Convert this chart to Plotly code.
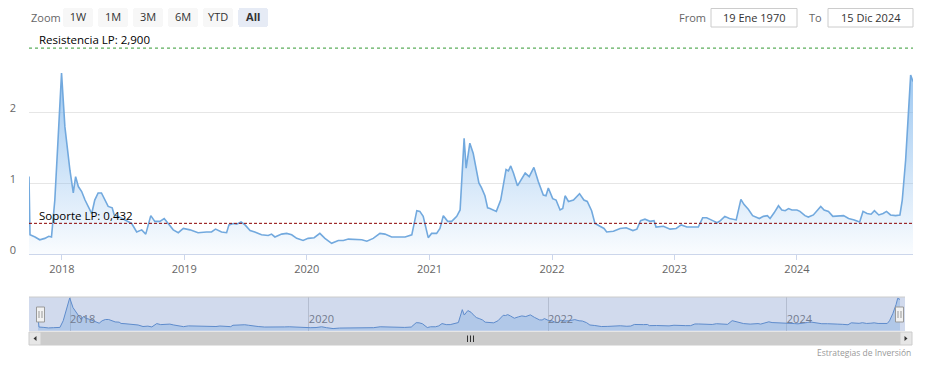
import plotly.graph_objects as go

# ---------------- data ----------------
dates = [
    "2017-09-25", "2017-09-28", "2017-10-13", "2017-10-27", "2017-11-11", "2017-11-23", "2017-12-01", "2017-12-11", "2017-12-20", "2017-12-31",
    "2018-01-10", "2018-01-18", "2018-01-25", "2018-02-04", "2018-02-11", "2018-02-19", "2018-03-01", "2018-03-11", "2018-03-20", "2018-03-31",
    "2018-04-09", "2018-04-19", "2018-04-29", "2018-05-09", "2018-05-19", "2018-05-31", "2018-06-06", "2018-06-18", "2018-07-08", "2018-07-28",
    "2018-08-12", "2018-08-27", "2018-09-08", "2018-09-23", "2018-10-05", "2018-10-20", "2018-11-02", "2018-11-14", "2018-11-29", "2018-12-14",
    "2018-12-29", "2019-01-18", "2019-02-11", "2019-03-08", "2019-03-23", "2019-04-04", "2019-04-22", "2019-05-07", "2019-05-14", "2019-05-27",
    "2019-06-06", "2019-06-19", "2019-07-01", "2019-07-16", "2019-07-30", "2019-08-19", "2019-09-08", "2019-09-18", "2019-09-28", "2019-10-18",
    "2019-11-02", "2019-11-17", "2019-12-02", "2019-12-21", "2020-01-05", "2020-01-23", "2020-02-09", "2020-02-24", "2020-03-15", "2020-04-04",
    "2020-04-19", "2020-05-04", "2020-05-24", "2020-06-13", "2020-06-28", "2020-07-17", "2020-08-06", "2020-08-21", "2020-09-10", "2020-09-30",
    "2020-10-20", "2020-11-09", "2020-11-24", "2020-12-03", "2020-12-13", "2020-12-28", "2021-01-07", "2021-01-22", "2021-02-01", "2021-02-11",
    "2021-02-24", "2021-03-08", "2021-03-23", "2021-04-02", "2021-04-14", "2021-04-20", "2021-05-01", "2021-05-11", "2021-05-21", "2021-05-28",
    "2021-06-05", "2021-06-15", "2021-06-23", "2021-06-30", "2021-07-19", "2021-08-01", "2021-08-17", "2021-08-24", "2021-08-31", "2021-09-08",
    "2021-09-20", "2021-10-03", "2021-10-13", "2021-10-25", "2021-11-08", "2021-11-21", "2021-12-06", "2021-12-14", "2021-12-21", "2022-01-03",
    "2022-01-13", "2022-01-25", "2022-02-02", "2022-02-09", "2022-02-19", "2022-03-06", "2022-03-24", "2022-04-06", "2022-04-16", "2022-04-29",
    "2022-05-09", "2022-05-24", "2022-06-05", "2022-06-13", "2022-07-03", "2022-07-23", "2022-08-10", "2022-08-30", "2022-09-11", "2022-09-22",
    "2022-10-05", "2022-10-20", "2022-11-01", "2022-11-07", "2022-11-29", "2022-12-19", "2023-01-06", "2023-01-21", "2023-02-07", "2023-02-26",
    "2023-03-13", "2023-03-26", "2023-04-07", "2023-04-25", "2023-05-08", "2023-05-18", "2023-05-31", "2023-06-14", "2023-07-04", "2023-07-18",
    "2023-07-27", "2023-08-09", "2023-08-22", "2023-09-11", "2023-09-23", "2023-10-05", "2023-10-13", "2023-10-25", "2023-11-07", "2023-11-17",
    "2023-11-27", "2023-12-07", "2023-12-17", "2024-01-01", "2024-01-10", "2024-01-25", "2024-02-04", "2024-02-19", "2024-03-05", "2024-03-12",
    "2024-03-22", "2024-04-04", "2024-04-17", "2024-05-04", "2024-05-19", "2024-06-03", "2024-06-20", "2024-07-06", "2024-07-16", "2024-07-28",
    "2024-08-09", "2024-08-19", "2024-09-01", "2024-09-14", "2024-09-24", "2024-10-06", "2024-10-21", "2024-11-03", "2024-11-10", "2024-11-20",
    "2024-11-30", "2024-12-05", "2024-12-12",
]
values = [
    1.09, 0.27, 0.24, 0.20, 0.22, 0.25, 0.24, 0.76, 1.56, 2.55,
    1.79, 1.46, 1.18, 0.86, 1.09, 0.95, 0.88, 0.76, 0.67, 0.57,
    0.76, 0.86, 0.86, 0.76, 0.67, 0.65, 0.55, 0.53, 0.48, 0.43,
    0.31, 0.34, 0.28, 0.54, 0.46, 0.46, 0.50, 0.43, 0.34, 0.30,
    0.36, 0.34, 0.30, 0.31, 0.31, 0.35, 0.31, 0.30, 0.41, 0.43,
    0.42, 0.45, 0.41, 0.33, 0.31, 0.27, 0.26, 0.28, 0.24, 0.28,
    0.29, 0.27, 0.22, 0.19, 0.22, 0.23, 0.29, 0.22, 0.15, 0.19,
    0.19, 0.21, 0.20, 0.20, 0.18, 0.22, 0.29, 0.28, 0.24, 0.24,
    0.24, 0.27, 0.61, 0.60, 0.53, 0.23, 0.29, 0.29, 0.36, 0.54,
    0.46, 0.46, 0.53, 0.62, 1.63, 1.21, 1.56, 1.42, 1.14, 1.00,
    0.93, 0.82, 0.65, 0.64, 0.60, 0.76, 1.19, 1.17, 1.24, 1.14,
    0.96, 1.07, 1.14, 1.09, 1.22, 1.02, 0.83, 0.82, 0.93, 0.78,
    0.76, 0.62, 0.64, 0.82, 0.74, 0.76, 0.85, 0.76, 0.74, 0.61,
    0.43, 0.39, 0.36, 0.31, 0.32, 0.36, 0.37, 0.33, 0.35, 0.47,
    0.49, 0.46, 0.47, 0.38, 0.39, 0.35, 0.36, 0.41, 0.38, 0.38,
    0.38, 0.51, 0.51, 0.47, 0.44, 0.47, 0.53, 0.50, 0.48, 0.77,
    0.70, 0.63, 0.54, 0.50, 0.53, 0.54, 0.50, 0.58, 0.68, 0.62,
    0.61, 0.64, 0.62, 0.62, 0.60, 0.54, 0.52, 0.55, 0.63, 0.67,
    0.62, 0.60, 0.53, 0.53, 0.54, 0.50, 0.48, 0.45, 0.60, 0.57,
    0.56, 0.61, 0.55, 0.57, 0.60, 0.55, 0.54, 0.55, 0.76, 1.32,
    2.03, 2.52, 2.43,
]
RESISTANCE = 2.900
SUPPORT = 0.432
y_ticks = [0, 1, 2]
zoom_buttons = ["1W", "1M", "3M", "6M", "YTD", "All"]
FROM_LABEL = "19 Ene 1970"
TO_LABEL = "15 Dic 2024"
CREDITS = "Estrategias de Inversión"

# ---------------- layout helpers ----------------
# The page body has an 8px margin, so the figure is 8px smaller and every
# window-pixel position is mapped with that offset.
OFF = 8
W, H = 931 - OFF, 367 - OFF
def px(x):
    return (x - OFF) / W
def py(y):
    return 1 - (y - OFF) / H

def es_num(v):
    return f"{v:,.3f}".replace(",", "X").replace(".", ",").replace("X", ".")

FONT = "Open Sans, Noto Sans, sans-serif"
LINE = "#72a9de"

fig = go.Figure()
fig.add_trace(go.Scatter(
    x=dates, y=values, mode="lines",
    line=dict(color=LINE, width=1.6),
    fill="tozeroy",
    fillgradient=dict(type="vertical", start=0, stop=max(values),
                      colorscale=[[0, "rgba(124,181,236,0.04)"], [1, "rgba(124,181,236,0.75)"]]),
    xaxis="x", yaxis="y", showlegend=False, name="",
))
fig.add_trace(go.Scatter(
    x=dates, y=values, mode="lines",
    line=dict(color="#5b8fd0", width=1),
    fill="tozeroy", fillcolor="rgba(124,181,236,0.35)",
    xaxis="x2", yaxis="y2", showlegend=False, hoverinfo="skip",
))

steps = {
    "1W": dict(count=7, step="day", stepmode="backward"),
    "1M": dict(count=1, step="month", stepmode="backward"),
    "3M": dict(count=3, step="month", stepmode="backward"),
    "6M": dict(count=6, step="month", stepmode="backward"),
    "YTD": dict(count=1, step="year", stepmode="todate"),
    "All": dict(step="all"),
}
buttons = [dict(label=("<b>%s</b>" % b if b == "All" else b), **steps[b]) for b in zoom_buttons]

shapes = []
# support / resistance
shapes.append(dict(type="line", xref="paper", yref="y", x0=px(29), x1=px(913), y0=RESISTANCE, y1=RESISTANCE,
                   line=dict(color="#339933", width=1, dash="dot")))
shapes.append(dict(type="line", xref="paper", yref="y", x0=px(29), x1=px(913), y0=SUPPORT, y1=SUPPORT,
                   line=dict(color="#8b0000", width=1, dash="3px,2px")))
# From / To boxes
for x0, x1 in [(711, 797), (828, 913)]:
    shapes.append(dict(type="rect", xref="paper", yref="paper", x0=px(x0), x1=px(x1), y0=py(27), y1=py(8.5),
                       line=dict(color="#cccccc", width=1), fillcolor="white"))
# navigator mask and outline
shapes.append(dict(type="rect", xref="paper", yref="paper", x0=px(29), x1=px(905), y0=py(331), y1=py(297),
                   line=dict(width=0), fillcolor="rgba(102,133,194,0.3)", layer="above"))
shapes.append(dict(type="line", xref="paper", yref="paper", x0=px(29), x1=px(905), y0=py(297), y1=py(297),
                   line=dict(color="#cccccc", width=1), layer="above"))
# handles
for cx in (40.5, 899.5):
    shapes.append(dict(type="rect", xref="paper", yref="paper", x0=px(cx - 4), x1=px(cx + 4), y0=py(322), y1=py(307),
                       line=dict(color="#999999", width=1), fillcolor="#f2f2f2", layer="above"))
    for dx in (-1.5, 1.5):
        shapes.append(dict(type="line", xref="paper", yref="paper", x0=px(cx + dx), x1=px(cx + dx), y0=py(318), y1=py(311),
                           line=dict(color="#999999", width=1), layer="above"))
# scrollbar
shapes.append(dict(type="rect", xref="paper", yref="paper", x0=px(29), x1=px(912), y0=py(345), y1=py(332),
                   line=dict(width=0), fillcolor="#f2f2f2"))
shapes.append(dict(type="rect", xref="paper", yref="paper", x0=px(41), x1=px(900), y0=py(345), y1=py(332),
                   line=dict(color="#cccccc", width=1), fillcolor="#cccccc"))
for x0, x1 in [(29, 41), (900, 912)]:
    shapes.append(dict(type="rect", xref="paper", yref="paper", x0=px(x0), x1=px(x1), y0=py(345), y1=py(332),
                       line=dict(color="#cccccc", width=1), fillcolor="#e6e6e6"))
shapes.append(dict(type="path", xref="paper", yref="paper",
                   path=f"M {px(33.5)} {py(338.5)} L {px(36.5)} {py(336)} L {px(36.5)} {py(341)} Z",
                   fillcolor="#333333", line=dict(width=0)))
shapes.append(dict(type="path", xref="paper", yref="paper",
                   path=f"M {px(907.5)} {py(338.5)} L {px(904.5)} {py(336)} L {px(904.5)} {py(341)} Z",
                   fillcolor="#333333", line=dict(width=0)))
for gx in (467.5, 470.5, 473.5):
    shapes.append(dict(type="line", xref="paper", yref="paper", x0=px(gx), x1=px(gx), y0=py(342), y1=py(335.5),
                       line=dict(color="#333333", width=1)))

annotations = [
    dict(text=f"Resistencia LP: {es_num(RESISTANCE)}", xref="paper", yref="y", x=px(37), y=RESISTANCE,
         xanchor="left", yanchor="bottom", yshift=-1, showarrow=False, font=dict(size=11.5, color="#000000")),
    dict(text=f"Soporte LP: {es_num(SUPPORT)}", xref="paper", yref="y", x=px(37), y=SUPPORT,
         xanchor="left", yanchor="bottom", yshift=-2, showarrow=False, font=dict(size=11.5, color="#000000")),
    dict(text="Zoom", xref="paper", yref="paper", x=px(29), y=py(17.5), xanchor="left", yanchor="middle",
         showarrow=False, font=dict(size=11, color="#666666")),
    dict(text="From", xref="paper", yref="paper", x=px(677), y=py(17.5), xanchor="left", yanchor="middle",
         showarrow=False, font=dict(size=11, color="#666666")),
    dict(text="To", xref="paper", yref="paper", x=px(807), y=py(17.5), xanchor="left", yanchor="middle",
         showarrow=False, font=dict(size=11, color="#666666")),
    dict(text=FROM_LABEL, xref="paper", yref="paper", x=px(754), y=py(17.5), xanchor="center", yanchor="middle",
         showarrow=False, font=dict(size=11, color="#333333")),
    dict(text=TO_LABEL, xref="paper", yref="paper", x=px(870.5), y=py(17.5), xanchor="center", yanchor="middle",
         showarrow=False, font=dict(size=11, color="#333333")),
    dict(text=CREDITS, xref="paper", yref="paper", x=px(913), y=py(352), xanchor="right", yanchor="middle",
         showarrow=False, font=dict(size=8.5, color="#999999")),
]

fig.update_layout(
    width=W, height=H, autosize=False,
    margin=dict(l=0, r=0, t=0, b=0, pad=0, autoexpand=False),
    paper_bgcolor="white", plot_bgcolor="rgba(0,0,0,0)",
    font=dict(family=FONT, size=11, color="#666666"),
    showlegend=False, hovermode="x",
    xaxis=dict(
        domain=[px(29), px(913)], anchor="y", type="date", autorange=True, automargin=False,
        showgrid=False, zeroline=False, showline=True, linecolor="#ccd6eb", linewidth=1,
        ticks="outside", ticklen=5, tickcolor="#ccd6eb", tickformat="%Y", dtick="M12", tick0="2018-01-01",
        tickfont=dict(size=11, color="#666666"),
        rangeselector=dict(
            buttons=buttons, x=px(63), y=py(8), xanchor="left", yanchor="top",
            bgcolor="#f7f7f7", activecolor="#e6ebf5", bordercolor="#f7f7f7", borderwidth=0,
            font=dict(size=11, color="#333333", family=FONT),
        ),
    ),
    yaxis=dict(
        domain=[py(254), py(41)], anchor="x", range=[0, 3], tickvals=y_ticks, automargin=False,
        showgrid=True, gridcolor="#e6e6e6", zeroline=False, showline=False,
        tickfont=dict(size=11, color="#666666"), ticklabelstandoff=12, ticklabelshift=-4,
    ),
    xaxis2=dict(
        domain=[px(38), px(900)], anchor="y2", type="date", autorange=True, automargin=False,
        showgrid=True, gridcolor="#d6d6d6", zeroline=False, showline=False, ticks="",
        dtick="M24", tick0="2018-01-01", tickformat="%Y", ticklabelposition="inside right",
        tickfont=dict(size=11, color="#777777"),
    ),
    yaxis2=dict(domain=[py(331), py(297)], anchor="x2", range=[-0.04, 2.62], visible=False),
    shapes=shapes,
    annotations=annotations,
)

fig.write_html("out.html", config={"displayModeBar": False})
